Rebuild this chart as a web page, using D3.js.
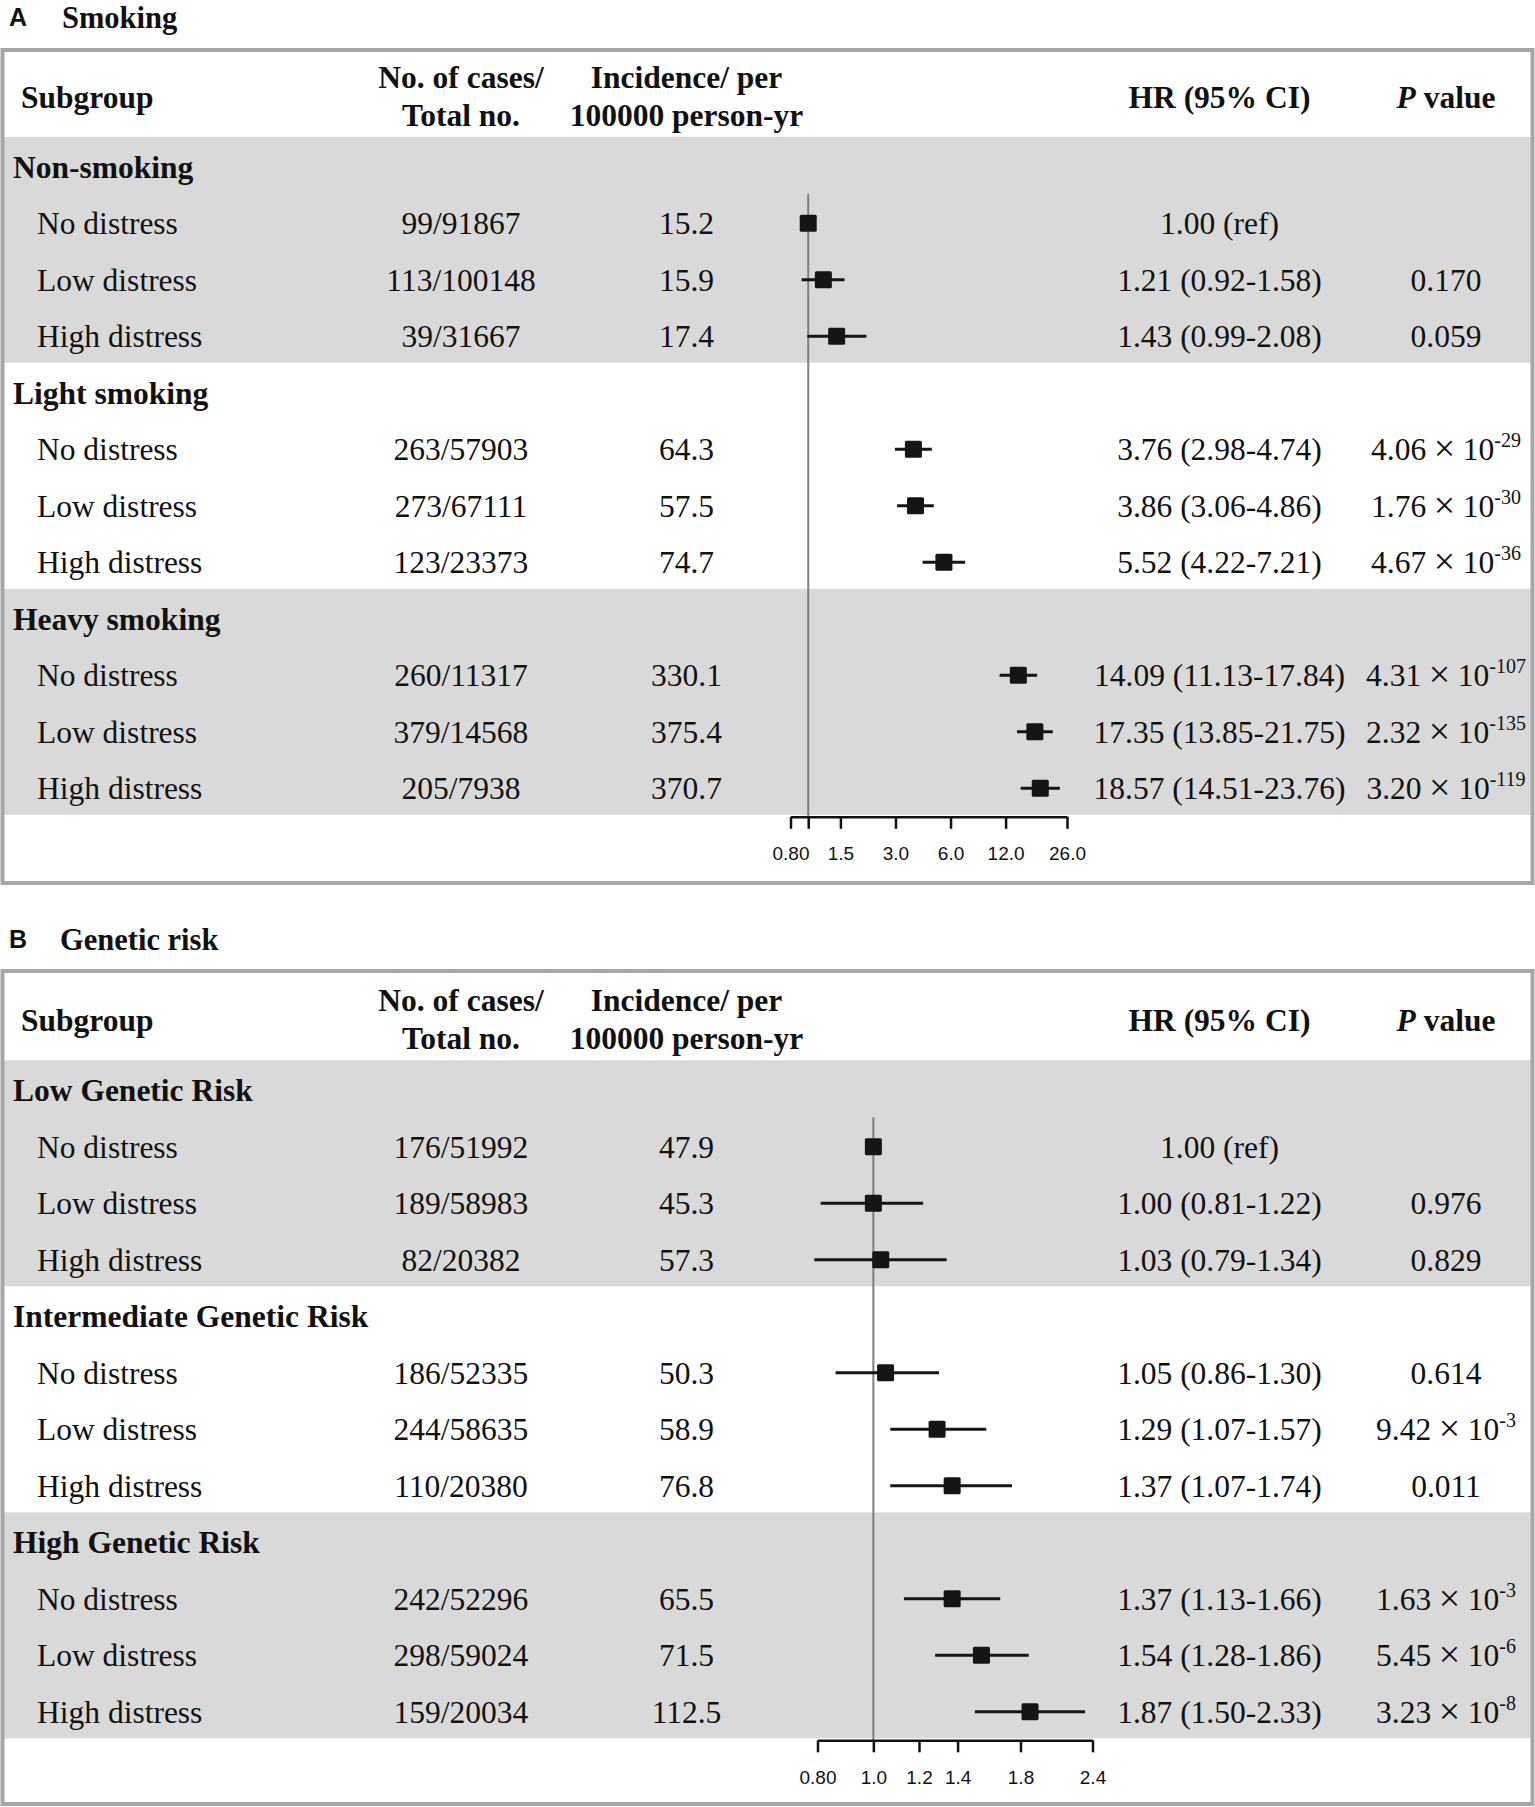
<!DOCTYPE html>
<html><head><meta charset="utf-8">
<script src="https://cdn.jsdelivr.net/npm/d3@7"></script>
<style>body{margin:0;background:#fff}</style>
</head><body>
<svg id="c" width="1535" height="1807"></svg>
<script>
// ---------- data ----------
const subgroupLabels = ["No distress", "Low distress", "High distress"];

const groupsA = ["Non-smoking", "Light smoking", "Heavy smoking"];
const casesA = ["99/91867", "113/100148", "39/31667", "263/57903", "273/67111", "123/23373", "260/11317", "379/14568", "205/7938"];
const incidenceA = [15.2, 15.9, 17.4, 64.3, 57.5, 74.7, 330.1, 375.4, 370.7];
const hrA = [1.00, 1.21, 1.43, 3.76, 3.86, 5.52, 14.09, 17.35, 18.57];
const lowerA = [null, 0.92, 0.99, 2.98, 3.06, 4.22, 11.13, 13.85, 14.51];
const upperA = [null, 1.58, 2.08, 4.74, 4.86, 7.21, 17.84, 21.75, 23.76];
const pA = ["", "0.170", "0.059", "4.06e-29", "1.76e-30", "4.67e-36", "4.31e-107", "2.32e-135", "3.20e-119"];
const ticksA = [0.8, 1.0, 1.5, 3.0, 6.0, 12.0, 26.0];
const tickLabelsA = ["0.80", "", "1.5", "3.0", "6.0", "12.0", "26.0"];

const groupsB = ["Low Genetic Risk", "Intermediate Genetic Risk", "High Genetic Risk"];
const casesB = ["176/51992", "189/58983", "82/20382", "186/52335", "244/58635", "110/20380", "242/52296", "298/59024", "159/20034"];
const incidenceB = [47.9, 45.3, 57.3, 50.3, 58.9, 76.8, 65.5, 71.5, 112.5];
const hrB = [1.00, 1.00, 1.03, 1.05, 1.29, 1.37, 1.37, 1.54, 1.87];
const lowerB = [null, 0.81, 0.79, 0.86, 1.07, 1.07, 1.13, 1.28, 1.50];
const upperB = [null, 1.22, 1.34, 1.30, 1.57, 1.74, 1.66, 1.86, 2.33];
const pB = ["", "0.976", "0.829", "0.614", "9.42e-3", "0.011", "1.63e-3", "5.45e-6", "3.23e-8"];
const ticksB = [0.8, 1.0, 1.2, 1.4, 1.8, 2.4];
const tickLabelsB = ["0.80", "1.0", "1.2", "1.4", "1.8", "2.4"];

// ---------- drawing ----------
const svg = d3.select("#c");
const SERIF = "'Liberation Serif','Times New Roman',serif";
const SANS = "'Liberation Sans',Arial,sans-serif";
const fmt2 = d3.format(".2f"), fmt1 = d3.format(".1f");

function drawPanel(o) {
  const g = svg.append("g");
  const c = o.shift;
  const rowH = 56.5;
  const row0 = 166.8 + c;
  const rowY = k => row0 + k * rowH;
  const bandTop = k => rowY(k) - 30;
  const axisY = bandTop(12) + 2;

  // grey bands
  [0, 2].forEach(gi => {
    g.append("rect").attr("x", 4).attr("y", bandTop(gi * 4))
      .attr("width", 1527).attr("height", 4 * rowH).attr("fill", "#d9d9d9");
  });

  // box
  g.append("rect").attr("x", 2.5).attr("y", o.boxTop).attr("width", 1530)
    .attr("height", o.boxH).attr("fill", "none").attr("stroke", "#a6a6a6").attr("stroke-width", 4);

  // title
  g.append("text").attr("x", 9).attr("y", 26 + o.tshift).attr("font-family", SANS)
    .attr("font-weight", "bold").attr("font-size", 25).attr("fill", "#111").text(o.letter);
  g.append("text").attr("x", o.titleX).attr("y", 28 + o.tshift).attr("font-family", SERIF)
    .attr("font-weight", "bold").attr("font-size", 30.5).attr("fill", "#111").text(o.title);

  // header
  const hdr = (x, y, t, anchor) => g.append("text").attr("x", x).attr("y", y + c)
    .attr("font-family", SERIF).attr("font-weight", "bold").attr("font-size", 31.5)
    .attr("text-anchor", anchor || "middle").attr("fill", "#111").text(t);
  hdr(21, 107.5, "Subgroup", "start");
  hdr(461, 87.5, "No. of cases/");
  hdr(461, 125.5, "Total no.");
  hdr(686.5, 87.5, "Incidence/ per");
  hdr(686.5, 125.5, "100000 person-yr");
  hdr(1219.5, 107.5, "HR (95% CI)");
  const ph = g.append("text").attr("x", 1446).attr("y", 107.5 + c).attr("font-family", SERIF)
    .attr("font-weight", "bold").attr("font-size", 31.5).attr("text-anchor", "middle").attr("fill", "#111");
  ph.append("tspan").attr("font-style", "italic").text("P");
  ph.append("tspan").text(" value");

  const x = d3.scaleLog().domain(o.domain).range(o.range);

  // group rows and subrows
  const rows = [];
  o.groups.forEach((gn, gi) => {
    rows.push({ type: "group", label: gn, k: gi * 4 });
    subgroupLabels.forEach((sl, j) => {
      const i = gi * 3 + j;
      rows.push({ type: "sub", label: sl, k: gi * 4 + 1 + j, i });
    });
  });

  const txt = (xx, y, t, anchor, bold) => g.append("text").attr("x", xx).attr("y", y)
    .attr("font-family", SERIF).attr("font-size", 31.5).attr("font-weight", bold ? "bold" : "normal")
    .attr("text-anchor", anchor).attr("fill", "#111").text(t);

  // reference line
  g.append("line").attr("x1", x(1)).attr("x2", x(1)).attr("y1", rowY(0) + 27).attr("y2", axisY)
    .attr("stroke", "#7f7f7f").attr("stroke-width", 2);

  rows.forEach(r => {
    const yb = rowY(r.k) + 11;
    if (r.type === "group") { txt(13, yb, r.label, "start", true); return; }
    const i = r.i;
    txt(37, yb, r.label, "start");
    txt(461, yb, o.cases[i], "middle");
    txt(686.5, yb, fmt1(o.incidence[i]), "middle");
    const hrT = o.lower[i] == null ? fmt2(o.hr[i]) + " (ref)"
      : fmt2(o.hr[i]) + " (" + fmt2(o.lower[i]) + "-" + fmt2(o.upper[i]) + ")";
    txt(1219.5, yb, hrT, "middle");
    const p = o.p[i];
    if (p) {
      const t = g.append("text").attr("x", 1446).attr("y", yb).attr("font-family", SERIF)
        .attr("font-size", 31.5).attr("text-anchor", "middle").attr("fill", "#111");
      if (p.includes("e")) {
        const [m, e] = p.split("e");
        t.append("tspan").text(m);
        t.append("tspan").attr("font-size", 38).attr("dy", 1).text("\u2009\u00D7\u2009");
        t.append("tspan").attr("dy", -1).text("10");
        t.append("tspan").attr("font-size", 20).attr("dy", -13).text(e);
      } else t.text(p);
    }
    // CI and marker
    const yc = rowY(r.k);
    if (o.lower[i] != null) {
      g.append("line").attr("x1", x(o.lower[i])).attr("x2", x(o.upper[i]))
        .attr("y1", yc).attr("y2", yc).attr("stroke", "#151515").attr("stroke-width", 3);
    }
    g.append("rect").attr("x", x(o.hr[i]) - 8.5).attr("y", yc - 8.5).attr("width", 17).attr("height", 17)
      .attr("rx", 1.5).attr("fill", "#151515");
  });

  // axis
  const ax = d3.axisBottom(x).tickValues(o.ticks).tickFormat((d, i) => o.tickLabels[i])
    .tickSize(12).tickSizeOuter(0).tickPadding(18);
  const ag = g.append("g").attr("transform", `translate(0,${axisY})`).call(ax);
  ag.select(".domain").attr("stroke", "#111").attr("stroke-width", 2.5);
  ag.selectAll(".tick line").attr("stroke", "#111").attr("stroke-width", 2.5);
  ag.selectAll(".tick text").attr("font-family", SANS).attr("font-size", 19).attr("fill", "#111");
}

drawPanel({
  letter: "A", title: "Smoking", titleX: 62, tshift: 0, shift: 0, boxTop: 50, boxH: 833,
  groups: groupsA, cases: casesA, incidence: incidenceA, hr: hrA, lower: lowerA, upper: upperA, p: pA,
  ticks: ticksA, tickLabels: tickLabelsA, domain: [0.8, 26], range: [790.5, 1067]
});
drawPanel({
  letter: "B", title: "Genetic risk", titleX: 60, tshift: 922, shift: 923.5, boxTop: 971, boxH: 833,
  groups: groupsB, cases: casesB, incidence: incidenceB, hr: hrB, lower: lowerB, upper: upperB, p: pB,
  ticks: ticksB, tickLabels: tickLabelsB, domain: [0.8, 2.4], range: [817.5, 1092.5]
});
</script>
</body></html>
